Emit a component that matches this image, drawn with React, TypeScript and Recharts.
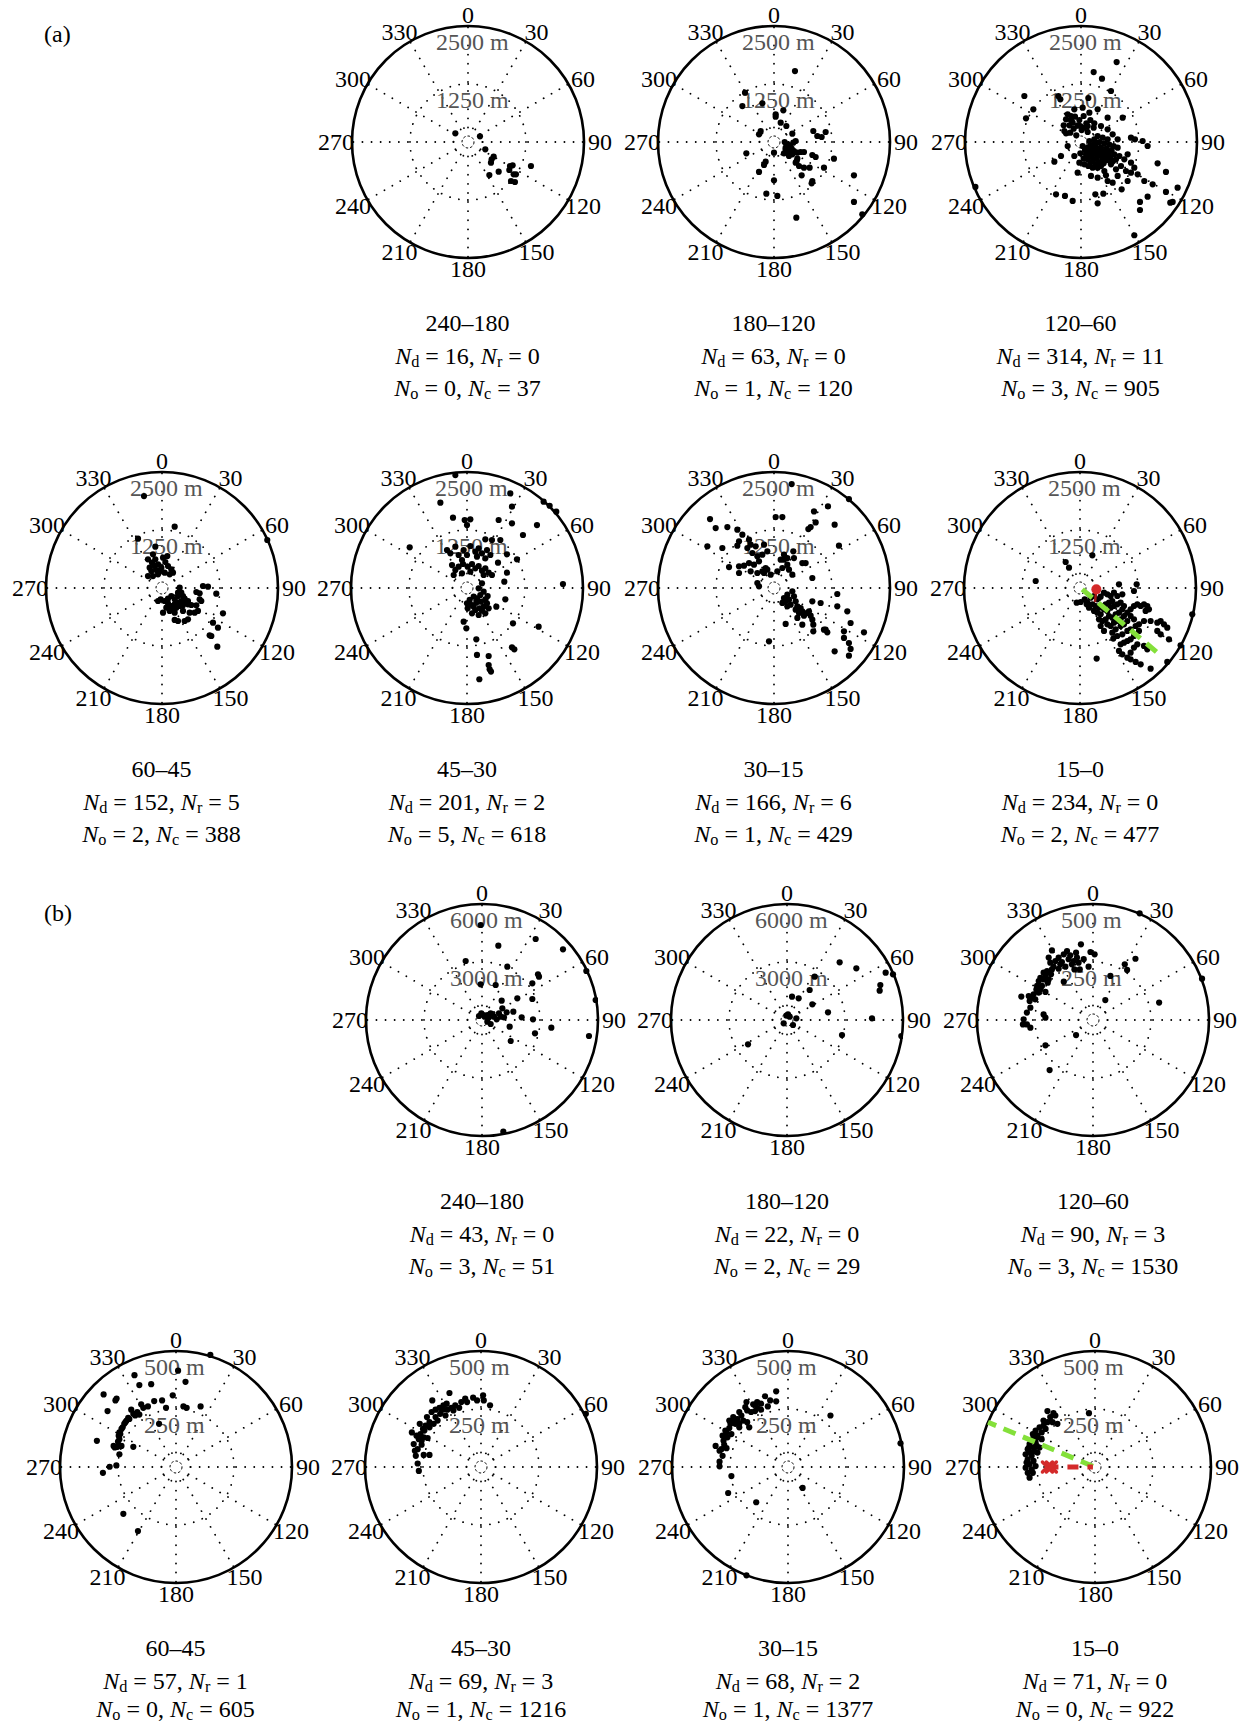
import React from 'react';
import {
  RadarChart, PolarGrid, PolarAngleAxis, PolarRadiusAxis, Radar,
  ScatterChart, Scatter, XAxis, YAxis,
} from 'recharts';

type P = [number, number];

const SERIF = '"Liberation Serif", "Times New Roman", serif';
const GREEN = '#84e03a';
const RED = '#d42a2a';

// ---------- axis / tick values ----------
const ANGLE_TICKS = [0, 30, 60, 90, 120, 150, 180, 210, 240, 270, 300, 330];
const TIME_WINDOWS = ['240–180', '180–120', '120–60', '60–45', '45–30', '30–15', '15–0'];
const RMAX_A = 2500;
const RMAX_B_FAR = 6000;
const RMAX_B_NEAR = 500;

// ---------- counts ----------
const A_ND = [16, 63, 314, 152, 201, 166, 234];
const A_NR = [0, 0, 11, 5, 2, 6, 0];
const A_NO = [0, 1, 3, 2, 5, 1, 2];
const A_NC = [37, 120, 905, 388, 618, 429, 477];
const B_ND = [43, 22, 90, 57, 69, 68, 71];
const B_NR = [0, 0, 3, 1, 3, 2, 0];
const B_NO = [3, 2, 3, 0, 1, 1, 0];
const B_NC = [51, 29, 1530, 605, 1216, 1377, 922];

// ---------- detections: [east m, north m] relative to radar ----------
const A_240_180: P[] = [
  [-273, 187], [258, 122], [373, -158], [553, -316], [510, -373], [495, -445], [661, -639], [460, -711],
  [905, -517], [962, -503], [1357, -517], [890, -603], [984, -696], [1034, -696], [926, -840], [1012, -862],
];

const A_180_120: P[] = [
  [452, 1529], [-625, 1063], [-682, 775], [-251, 833], [201, 682], [36, 596], [36, 546], [144, 416], [266, 345],
  [-287, 237], [-323, 165], [395, 180], [847, 237], [933, 129], [1027, 108], [1113, 215], [0, -230], [230, 0],
  [287, -50], [345, -86], [416, -14], [467, 22], [381, -144], [251, -122], [287, -230], [323, -302], [431, -194],
  [503, -230], [574, -215], [646, -215], [826, -280], [898, -323], [1292, -359], [-596, -244], [-180, -424],
  [-215, -495], [-323, -646], [467, -445], [539, -517], [596, -718], [768, -553], [826, -840], [811, -890],
  [1077, -553], [0, -826], [-165, -1113], [72, -1163], [481, -1630], [1723, -718], [1723, -1292], [1903, -1558],
  [251, -158], [359, -230], [215, -244], [323, -65], [273, -194], [395, -266], [503, -359], [488, -409], [646, -553],
];

const A_120_60: P[] = [
  [768, 1723], [273, 1508], [452, 1364], [646, 1099], [158, 948], [-1221, 991], [-1027, 704], [-1185, 510],
  [-488, 991], [-445, 919], [-144, 704], [36, 740], [180, 632], [359, 704], [574, 524], [898, 524], [1077, 93],
  [1163, 57], [1328, 22], [1436, -86], [1651, -460], [1831, -646], [2082, -984], [1831, -1077], [1924, -1307],
  [1975, -1292], [1271, -1292], [1271, -1465], [1436, -1178], [1149, -2010], [-574, -424], [-538, -1127],
  [-345, -1163], [-180, -1271], [359, -1321], [309, -1127], [481, -1113], [682, -876], [876, -1020], [1005, -840],
  [1077, -661], [1221, -696], [1364, -840], [1544, -912], [-287, -86], [-359, 237], [-323, 488], [-215, 560],
  [-72, -661], [215, -732], [359, -768], [538, -718], [754, -589], [862, -517], [933, -373], [1005, -266],
  [790, -122], [790, 57], [682, 165], [574, 273], [431, 345], [287, 402], [144, 345], [1077, -445], [1149, -553],
  [969, -625], [503, -625], [790, -732], [574, -840], [-431, -302], [-144, -302], [-2276, -969],
  [-287, 596], [-215, 474], [-129, 546], [-36, 474], [57, 560], [115, 402], [201, 474], [273, 309], [-251, 359],
  [-158, 287], [-72, 359], [14, 258], [144, 215], [-323, 187], [-230, 201], [-101, 144], [-14, 345], [72, 309],
  [-180, 416], [-373, 359],
  [36, -86], [86, -172], [144, -122], [201, -72], [258, -144], [316, -86], [373, -172], [431, -115], [488, -201],
  [546, -144], [603, -230], [661, -172], [718, -266], [108, -266], [172, -215], [230, -302], [287, -244],
  [345, -330], [402, -273], [460, -359], [517, -302], [574, -388], [632, -330], [689, -416], [144, -373],
  [201, -445], [258, -402], [316, -488], [373, -431], [431, -517], [488, -460], [57, -359], [-14, -244], [180, 22],
  [287, 57], [395, 0], [503, -29], [610, -57], [704, -86], [359, 129], [467, 93], [574, 57], [251, -553],
  [359, -553], [646, -481], [754, -373], [826, -302], [72, -481], [-36, -445], [158, -517], [230, -100], [300, -20],
  [420, -230], [520, -240], [600, -300], [330, -190], [450, -420], [540, -330], [620, -410], [200, -300],
];

const A_60_45: P[] = [
  [-388, 1982], [273, 1321], [-144, 890], [2269, 1034], [-517, 1063], [-194, 725], [-302, 617], [-215, 546],
  [-144, 617], [-86, 510], [22, 653], [72, 560], [129, 474], [201, 402], [-14, 438], [-122, 388], [-230, 366],
  [-302, 258], [-194, 258], [-86, 294], [57, 330], [165, 294], [237, 330], [-266, 438], [115, 689], [-50, 366],
  [-158, 474],
  [381, 7], [416, -101], [345, -172], [273, -244], [201, -172], [129, -230], [57, -280], [-86, -280], [-29, -244],
  [129, -330], [201, -388], [273, -352], [345, -316], [416, -280], [488, -230], [237, -460], [309, -424],
  [381, -388], [452, -373], [165, -495], [93, -424], [273, -531], [345, -101], [452, -172], [22, -531],
  [488, -316], [560, -280], [452, -495],
  [883, 43], [991, 29], [740, -86], [811, -115], [1170, -122], [847, -280], [811, -244], [740, -373], [560, -352],
  [632, -366], [704, -531], [775, -495], [596, -531], [273, -689], [345, -711], [488, -711], [560, -675],
  [1314, -546], [1099, -747], [1206, -854], [1027, -1020], [1063, -1034], [1192, -1264],
];

const A_45_30: P[] = [
  [-251, 2434], [-574, 1838], [933, 2039], [969, 1752], [-302, 1515], [-50, 1465], [72, 1479], [0, 1357],
  [682, 1465], [969, 1393], [1508, 1357], [1206, 1142], [-1235, 876], [1651, 1860], [1781, 1773], [1924, 1644],
  [-431, 818], [-359, 747], [-251, 890], [-180, 711], [-72, 818], [0, 711], [72, 905], [180, 783], [251, 854],
  [323, 747], [431, 818], [503, 711], [395, 639], [215, 675], [-108, 603], [-323, 495], [-251, 388], [-180, 460],
  [-86, 517], [14, 460], [108, 517], [180, 424], [251, 474], [323, 373], [395, 424], [467, 330], [538, 280],
  [-287, 280], [-108, 316], [72, 352], [359, 280], [862, 725], [1077, 617], [668, 546], [862, 330], [538, 1034],
  [395, 1048], [718, 1034],
  [323, 101], [251, -7], [359, -79], [287, -151], [215, -223], [144, -187], [57, -258], [0, -330], [108, -366],
  [201, -316], [302, -294], [395, -244], [445, -172], [431, -330], [359, -402], [273, -438], [180, -474],
  [108, -546], [251, -582], [395, -546], [144, -402], [14, -438], [467, -438], [323, -488],
  [804, 136], [632, -402], [826, -244], [-72, -725], [-14, -869], [991, -761], [1544, -833], [201, -1106],
  [969, -1278], [1020, -1321], [215, -1443], [467, -1465], [467, -1659], [488, -1752], [517, -1802], [266, -1967],
  [2068, 86],
];

const A_30_15: P[] = [
  [381, 2240], [1163, 1759], [862, 1651], [898, 1414], [790, 1314], [740, 1271], [1307, 1364], [1400, 912],
  [36, 1529], [180, 1529], [-1379, 1486], [-1257, 1292], [-1005, 1314], [-1436, 898], [-1113, 862], [-790, 1257],
  [-754, 1005], [-682, 1149], [-538, 1041], [-790, 912], [-574, 862], [-503, 933], [-395, 898], [-467, 754],
  [-359, 682], [-215, 933], [-144, 790], [-251, 718], [-323, 574], [-431, 503], [-538, 538], [-646, 481],
  [-754, 467], [-754, 323], [-969, 452], [-503, 359], [-359, 323], [-251, 359], [-144, 395], [-72, 287],
  [72, 359], [180, 431], [144, 610], [215, 610], [287, 503], [323, 395], [395, 287], [215, 718], [287, 646],
  [-359, 108], [-323, 36], [-215, 323], [-180, 431], [826, 215], [610, 538], [682, 538], [431, 646], [416, 790],
  [1615, 1917],
  [287, -144], [215, -215], [180, -323], [251, -287], [323, -251], [359, -359], [287, -395], [431, -180],
  [395, -72], [467, -287], [503, -395], [574, -431], [467, -467], [538, -538], [610, -503], [646, -596],
  [718, -538], [790, -596], [826, -682], [847, -790], [847, -933], [754, -503], [503, -646], [610, -790],
  [251, -775], [826, -287], [1005, -323], [1077, -898], [1113, -898], [1149, -955], [1364, -129], [1364, -395],
  [1580, -503], [1651, -754], [1508, -933], [1508, -1077], [1615, -1185], [1651, -1314], [1615, -1458],
  [1939, -955], [1307, -1364], [-108, -1149],
];

const A_15_0: P[] = [
  [266, 704], [-309, 560], [-237, 438], [-955, 151], [359, -1522], [840, 79], [1221, 79], [2420, -567],
  [2168, -1235], [1881, -1594],
  [-72, -316], [14, -302], [101, -244], [158, -316], [230, -208], [302, -172], [373, -244], [445, -187],
  [517, -101], [589, -136], [661, -172], [732, -101], [804, -172], [696, -280], [625, -316], [553, -352],
  [481, -388], [409, -424], [337, -388], [266, -352], [194, -424], [144, -352], [302, -495], [373, -531],
  [445, -567], [517, -460], [589, -495], [661, -424], [732, -388], [804, -352], [876, -316], [948, -388],
  [912, -460], [840, -531], [768, -567], [696, -639], [625, -603], [553, -675], [481, -711], [409, -675],
  [589, -783], [661, -819], [732, -747], [804, -711], [876, -675], [948, -603], [1020, -531], [1091, -460],
  [1163, -388], [1235, -352], [1307, -388], [1379, -352], [1450, -388], [1486, -460], [1414, -495], [1091, -603],
  [1163, -675], [1020, -711], [948, -783], [876, -819], [768, -890], [696, -962], [804, -1034], [912, -998],
  [1020, -926], [1091, -890], [1199, -819], [1271, -783], [1379, -711], [1522, -711], [1666, -747], [1738, -711],
  [1809, -783], [1881, -854], [1666, -926], [1738, -998], [1917, -1106], [1271, -926], [1163, -1034],
  [1091, -1106], [1020, -1142], [948, -1178], [876, -1213], [840, -1357], [912, -1429], [1020, -1501],
  [1091, -1537], [1199, -1594], [1307, -1644], [1522, -1738], [1091, -1393], [1163, -1285], [1235, -1213],
  [1379, -1249], [1450, -1321], [517, -926], [445, -819], [718, -1091], [912, -136], [1163, -65],
];
const A_15_0_TREND: P[] = [[50, -29], [1666, -1393]];
const A_15_0_TRACK: P[] = [[352, -29], [323, -302]];
const A_15_0_ECHO: P[] = [[352, -29]];

const B_240_180: P[] = [
  [-69, 4913], [845, 3845], [2776, 4189], [4189, 3655], [5396, 2534], [5879, 1034], [5534, -828], [-845, 3051],
  [1310, 2758], [2896, 2362], [2948, 2241], [2603, 1896], [707, 1810], [-69, 1845], [1827, 1121], [1017, 1000],
  [2603, 1086], [1052, 603], [1621, 431], [1276, 397], [965, 172], [1138, 138], [2052, 138], [2638, 34],
  [3586, -397], [1431, -345], [2741, -690], [1483, -1086], [448, 345], [276, 259], [138, 172], [-34, 345],
  [362, 138], [534, 259], [621, 172], [448, -207], [276, -86], [759, 34], [879, 345], [1103, -5775], [69, 259],
  [-155, 207],
];

const B_180_120: P[] = [
  [2724, 2983], [3586, 2672], [5103, 2448], [5482, 2362], [4827, 1810], [4793, 1517], [1172, 1552], [1431, 2241],
  [259, 1207], [603, 1121], [1310, 810], [2121, 397], [52, 293], [-34, 224], [-172, -172], [483, 86], [310, -259],
  [4396, 86], [2845, -776], [-2017, -1259], [5913, -828], [138, 172],
];

const B_120_60: P[] = [
  [-52, 326], [-11, 293], [7, 283], [-177, 300], [-112, 297], [-126, 283], [-98, 279], [-73, 290], [-69, 269],
  [-83, 254], [-105, 262], [-148, 269], [-162, 254], [-184, 247], [-191, 269], [-141, 240], [-170, 230],
  [-198, 211], [-148, 221], [-119, 230], [-57, 218], [-80, 218], [-19, 230], [75, 190], [137, 240], [147, 216],
  [183, 264], [-205, 190], [-227, 182], [-234, 168], [-241, 147], [-220, 147], [-227, 132], [-205, 121],
  [-234, 118], [-256, 111], [-277, 103], [-249, 89], [-309, 101], [-270, 53], [-285, 32], [-299, 3], [-302, -19],
  [-285, -19], [-270, -33], [-213, 24], [-205, 10], [-126, 165], [53, 86], [285, 75], [-73, -65], [-205, -109],
  [-187, -216], [201, 460], [470, 178], [-191, 175], [-213, 204], [-181, 197], [-195, 161], [-134, 250],
  [-91, 240], [-62, 247], [-40, 262], [-177, 218], [-213, 175], [-244, 132], [-263, 96], [-273, 82],
];

const B_60_45: P[] = [
  [9, 415], [148, 483], [41, 367], [-179, 396], [-158, 353], [-107, 357], [-312, 313], [-256, 295], [-261, 287],
  [-14, 309], [-60, 287], [-94, 284], [-150, 270], [-121, 261], [-43, 255], [32, 261], [46, 255], [106, 261],
  [-193, 247], [-295, 241], [-158, 226], [-176, 222], [-201, 207], [-213, 200], [-223, 186], [-235, 164],
  [-244, 149], [-247, 135], [-244, 120], [-269, 91], [-252, 87], [-235, 91], [-184, 87], [-341, 113], [-244, 55],
  [-286, 1], [-257, 7], [-315, -25], [-227, -202], [-164, -276], [-73, 186], [-218, 193], [-206, 212],
  [-184, 229], [-167, 237], [-141, 255], [-230, 171], [-240, 142], [-250, 110], [-264, 84],
];

const B_45_30: P[] = [
  [-136, 319], [-210, 287], [-68, 295], [-34, 299], [9, 309], [12, 287], [39, 266], [-85, 280], [-111, 266],
  [-128, 255], [-145, 247], [-165, 247], [-196, 247], [-176, 229], [-153, 222], [-187, 200], [-204, 186],
  [-222, 171], [-264, 186], [-244, 157], [-261, 142], [-278, 135], [-268, 120], [-247, 128], [-230, 125],
  [-290, 99], [-256, 96], [-281, 48], [-247, 52], [-222, 52], [-273, 15], [-268, -17], [-298, 149], [452, 229],
  [-119, 244], [-94, 255], [-162, 266], [-60, 280], [-17, 287], [-196, 215], [-222, 193], [-239, 178],
  [-256, 113], [-148, 273], [-179, 255], [-213, 237], [-233, 215], [-250, 164], [-273, 77], [-285, 70],
];

const B_30_15: P[] = [
  [-51, 326], [-99, 305], [-77, 287], [-51, 283], [-133, 280], [-116, 273], [-150, 270], [-179, 280], [-87, 261],
  [-116, 247], [-142, 241], [-159, 237], [-176, 244], [-133, 255], [-201, 222], [-218, 207], [-236, 197],
  [-227, 186], [-210, 186], [-193, 200], [-176, 193], [-167, 171], [-210, 171], [-248, 186], [-253, 168],
  [-265, 149], [-282, 135], [-261, 128], [-275, 96], [-265, 81], [-312, 91], [-287, 77], [-282, 48], [-295, 23],
  [-295, 3], [-244, -39], [-258, -112], [-137, -152], [63, -90], [183, 222], [485, 102], [-179, -467], [-230, 207],
  [-184, 258], [-210, 237], [-236, 215], [-253, 200], [-270, 157], [-244, 142], [-278, 113], [-295, 70],
];

const B_15_0: P[] = [
  [-205, 241], [-179, 232], [-193, 215], [-171, 222], [-162, 186], [-183, 193], [-205, 193], [-222, 178],
  [-239, 171], [-256, 157], [-230, 149], [-248, 135], [-265, 128], [-273, 113], [-256, 106], [-282, 99],
  [-265, 84], [-290, 77], [-278, 62], [-299, 55], [-273, 48], [-290, 33], [-265, 26], [-282, 12], [-299, -3],
  [-273, -10], [-290, -25], [-282, -46], [-256, 4], [-248, 62], [-268, 142], [-213, 164], [-230, 120], [-251, 91],
  [-239, 84], [-26, 232], [-285, 84], [-261, 67], [-295, 19], [-268, -25], [-248, 128], [-222, 200],
];
const B_15_0_TREND: P[] = [[-9, 3], [-461, 193]];
const B_15_0_TRACK: P[] = [[-205, 0], [-9, 0]];
const B_15_0_ECHO: P[] = [[-205, 0], [-188, 0]];

// ---------- layout ----------
const PAGE_W = 1241;
const PAGE_H = 1726;
const S = 300;          // panel box
const R = 116;          // outer circle radius (px)
const M = S / 2 - R;    // scatter margin so plot area == circle box
const CENTER_MARK = 6;
const LINE_OFFSETS = [181, 214, 246];

type PanelCfg = {
  cx: number; cy: number; rmax: number; pts: P[]; win: number;
  nd: number; nr: number; no: number; nc: number;
  trend?: P[]; track?: P[]; echo?: P[]; echoX?: P[]; dashedTrack?: boolean;
};

const PANELS: PanelCfg[] = [
  { cx: 467.5, cy: 141.5, rmax: RMAX_A, pts: A_240_180, win: 0, nd: A_ND[0], nr: A_NR[0], no: A_NO[0], nc: A_NC[0] },
  { cx: 773.5, cy: 141.5, rmax: RMAX_A, pts: A_180_120, win: 1, nd: A_ND[1], nr: A_NR[1], no: A_NO[1], nc: A_NC[1] },
  { cx: 1080.5, cy: 141.5, rmax: RMAX_A, pts: A_120_60, win: 2, nd: A_ND[2], nr: A_NR[2], no: A_NO[2], nc: A_NC[2] },
  { cx: 161.5, cy: 588, rmax: RMAX_A, pts: A_60_45, win: 3, nd: A_ND[3], nr: A_NR[3], no: A_NO[3], nc: A_NC[3] },
  { cx: 467, cy: 588, rmax: RMAX_A, pts: A_45_30, win: 4, nd: A_ND[4], nr: A_NR[4], no: A_NO[4], nc: A_NC[4] },
  { cx: 773.5, cy: 588, rmax: RMAX_A, pts: A_30_15, win: 5, nd: A_ND[5], nr: A_NR[5], no: A_NO[5], nc: A_NC[5] },
  { cx: 1080, cy: 588, rmax: RMAX_A, pts: A_15_0, win: 6, nd: A_ND[6], nr: A_NR[6], no: A_NO[6], nc: A_NC[6],
    trend: A_15_0_TREND, track: A_15_0_TRACK, echo: A_15_0_ECHO },
  { cx: 482, cy: 1019.5, rmax: RMAX_B_FAR, pts: B_240_180, win: 0, nd: B_ND[0], nr: B_NR[0], no: B_NO[0], nc: B_NC[0] },
  { cx: 787, cy: 1019.5, rmax: RMAX_B_FAR, pts: B_180_120, win: 1, nd: B_ND[1], nr: B_NR[1], no: B_NO[1], nc: B_NC[1] },
  { cx: 1093, cy: 1019.5, rmax: RMAX_B_NEAR, pts: B_120_60, win: 2, nd: B_ND[2], nr: B_NR[2], no: B_NO[2], nc: B_NC[2] },
  { cx: 175.5, cy: 1467, rmax: RMAX_B_NEAR, pts: B_60_45, win: 3, nd: B_ND[3], nr: B_NR[3], no: B_NO[3], nc: B_NC[3] },
  { cx: 481, cy: 1467, rmax: RMAX_B_NEAR, pts: B_45_30, win: 4, nd: B_ND[4], nr: B_NR[4], no: B_NO[4], nc: B_NC[4] },
  { cx: 788, cy: 1467, rmax: RMAX_B_NEAR, pts: B_30_15, win: 5, nd: B_ND[5], nr: B_NR[5], no: B_NO[5], nc: B_NC[5] },
  { cx: 1095, cy: 1467, rmax: RMAX_B_NEAR, pts: B_15_0, win: 6, nd: B_ND[6], nr: B_NR[6], no: B_NO[6], nc: B_NC[6],
    trend: B_15_0_TREND, track: B_15_0_TRACK, echoX: B_15_0_ECHO, dashedTrack: true },
];

// ---------- shapes ----------
// labels sit centred just outside the ring; side labels pushed a little further out
const AngleTick = (props: any) => {
  const side = props.textAnchor === 'start' ? 1 : props.textAnchor === 'end' ? -1 : 0;
  return (
    <text x={props.x + side * 5} y={props.y} textAnchor="middle" dominantBaseline="central"
      fontFamily={SERIF} fontSize={24} fill="#000">{props.payload?.value}</text>
  );
};
const RingLabelShape = (props: any) => (
  <text x={props.cx - 32} y={props.cy + 16} textAnchor="start" dominantBaseline="central"
    fontFamily={SERIF} fontSize={24} fill="#555">{props.payload?.label}</text>
);
const DotShape = (props: any) => <circle cx={props.cx} cy={props.cy} r={3.1} fill="#000" />;
const EmptyShape = () => <g />;
const EchoDot = (props: any) => <circle cx={props.cx} cy={props.cy} r={5} fill={RED} />;
const EchoX = (props: any) => (
  <g stroke={RED} strokeWidth={3.5} strokeLinecap="round">
    <line x1={props.cx - 5} y1={props.cy - 5} x2={props.cx + 5} y2={props.cy + 5} />
    <line x1={props.cx - 5} y1={props.cy + 5} x2={props.cx + 5} y2={props.cy - 5} />
  </g>
);

const toXY = (arr: P[]) => arr.map(([x, y]) => ({ x, y }));

function Sub({ children }: { children: React.ReactNode }) {
  return <span style={{ fontSize: '0.68em', verticalAlign: '-0.2em', lineHeight: 0 }}>{children}</span>;
}

function TextLine({ cx, cy, off, children }: { cx: number; cy: number; off: number; children: React.ReactNode }) {
  const top = Math.min(cy + off - 12, PAGE_H - 29);
  return (
    <div style={{
      position: 'absolute', left: cx - 160, top, width: 320, height: 24, textAlign: 'center',
      fontFamily: SERIF, fontSize: 24, lineHeight: '24px', color: '#000', whiteSpace: 'nowrap',
    }}>{children}</div>
  );
}

function Panel({ cfg }: { cfg: PanelCfg }) {
  const { cx, cy, rmax, pts, win, nd, nr, no, nc, trend, track, echo, echoX, dashedTrack } = cfg;
  const angleData = ANGLE_TICKS.map((a) => ({ angle: String(a), v: 0 }));
  const ringVals = [rmax / 8, rmax / 2];
  const ringPx = ringVals.map((v) => (R * v) / rmax);
  const ringLabels = [rmax / 2, rmax].map((v) => ({ x: 0, y: v, label: `${v} m` }));
  return (
    <>
      <div style={{ position: 'absolute', left: cx - S / 2, top: cy - S / 2, width: S, height: S }}>
        <div style={{ position: 'absolute', left: 0, top: 0 }}>
          <RadarChart width={S} height={S} cx={S / 2} cy={S / 2} outerRadius={R} innerRadius={ringPx[0]}
            data={angleData} margin={{ top: 0, right: 0, bottom: 0, left: 0 }}>
            <PolarGrid gridType="circle" polarRadius={ringPx} stroke="#000" strokeWidth={1.8}
              strokeDasharray="0.1 9" strokeLinecap="round" />
            <PolarGrid gridType="circle" polarRadius={[CENTER_MARK]} radialLines={false} stroke="#000"
              strokeWidth={1} strokeDasharray="2.5 2" />
            <PolarGrid gridType="circle" polarRadius={[R]} radialLines={false} stroke="#000" strokeWidth={2.6} />
            <PolarAngleAxis dataKey="angle" tick={AngleTick} tickLine={false} axisLine={false} tickSize={11} />
            <PolarRadiusAxis domain={[0, rmax]} tick={false} axisLine={false} />
            <Radar dataKey="v" stroke="none" fill="none" dot={false} isAnimationActive={false} />
          </RadarChart>
        </div>
        <div style={{ position: 'absolute', left: 0, top: 0 }}>
          <ScatterChart width={S} height={S} margin={{ top: M, right: M, bottom: M, left: M }}>
            <XAxis type="number" dataKey="x" domain={[-rmax, rmax]} allowDataOverflow hide />
            <YAxis type="number" dataKey="y" domain={[-rmax, rmax]} allowDataOverflow hide />
            <Scatter data={ringLabels} shape={RingLabelShape} isAnimationActive={false} />
            <Scatter data={toXY(pts)} shape={DotShape} isAnimationActive={false} />
            {trend && (
              <Scatter data={toXY(trend)} shape={EmptyShape} lineType="joint" isAnimationActive={false}
                line={{ stroke: GREEN, strokeWidth: 5, strokeDasharray: '13 8' }} />
            )}
            {track && (
              <Scatter data={toXY(track)} shape={EmptyShape} lineType="joint" isAnimationActive={false}
                line={dashedTrack
                  ? { stroke: RED, strokeWidth: 5, strokeDasharray: '11 9' }
                  : { stroke: '#a01818', strokeWidth: 2.5 }} />
            )}
            {echo && <Scatter data={toXY(echo)} shape={EchoDot} isAnimationActive={false} />}
            {echoX && <Scatter data={toXY(echoX)} shape={EchoX} isAnimationActive={false} />}
          </ScatterChart>
        </div>
      </div>
      <TextLine cx={cx} cy={cy} off={LINE_OFFSETS[0]}>{TIME_WINDOWS[win]}</TextLine>
      <TextLine cx={cx} cy={cy} off={LINE_OFFSETS[1]}>
        <i>N</i><Sub>d</Sub> = {nd}, <i>N</i><Sub>r</Sub> = {nr}
      </TextLine>
      <TextLine cx={cx} cy={cy} off={LINE_OFFSETS[2]}>
        <i>N</i><Sub>o</Sub> = {no}, <i>N</i><Sub>c</Sub> = {nc}
      </TextLine>
    </>
  );
}

export default function App() {
  return (
    <div style={{
      position: 'absolute', left: 0, top: 0, width: PAGE_W, height: PAGE_H, background: '#fff',
      fontFamily: SERIF, overflow: 'hidden',
    }}>
      <div style={{ position: 'absolute', left: 44, top: 21, fontSize: 24, fontFamily: SERIF }}>(a)</div>
      <div style={{ position: 'absolute', left: 44, top: 900, fontSize: 24, fontFamily: SERIF }}>(b)</div>
      {PANELS.map((p, i) => <Panel key={i} cfg={p} />)}
    </div>
  );
}
